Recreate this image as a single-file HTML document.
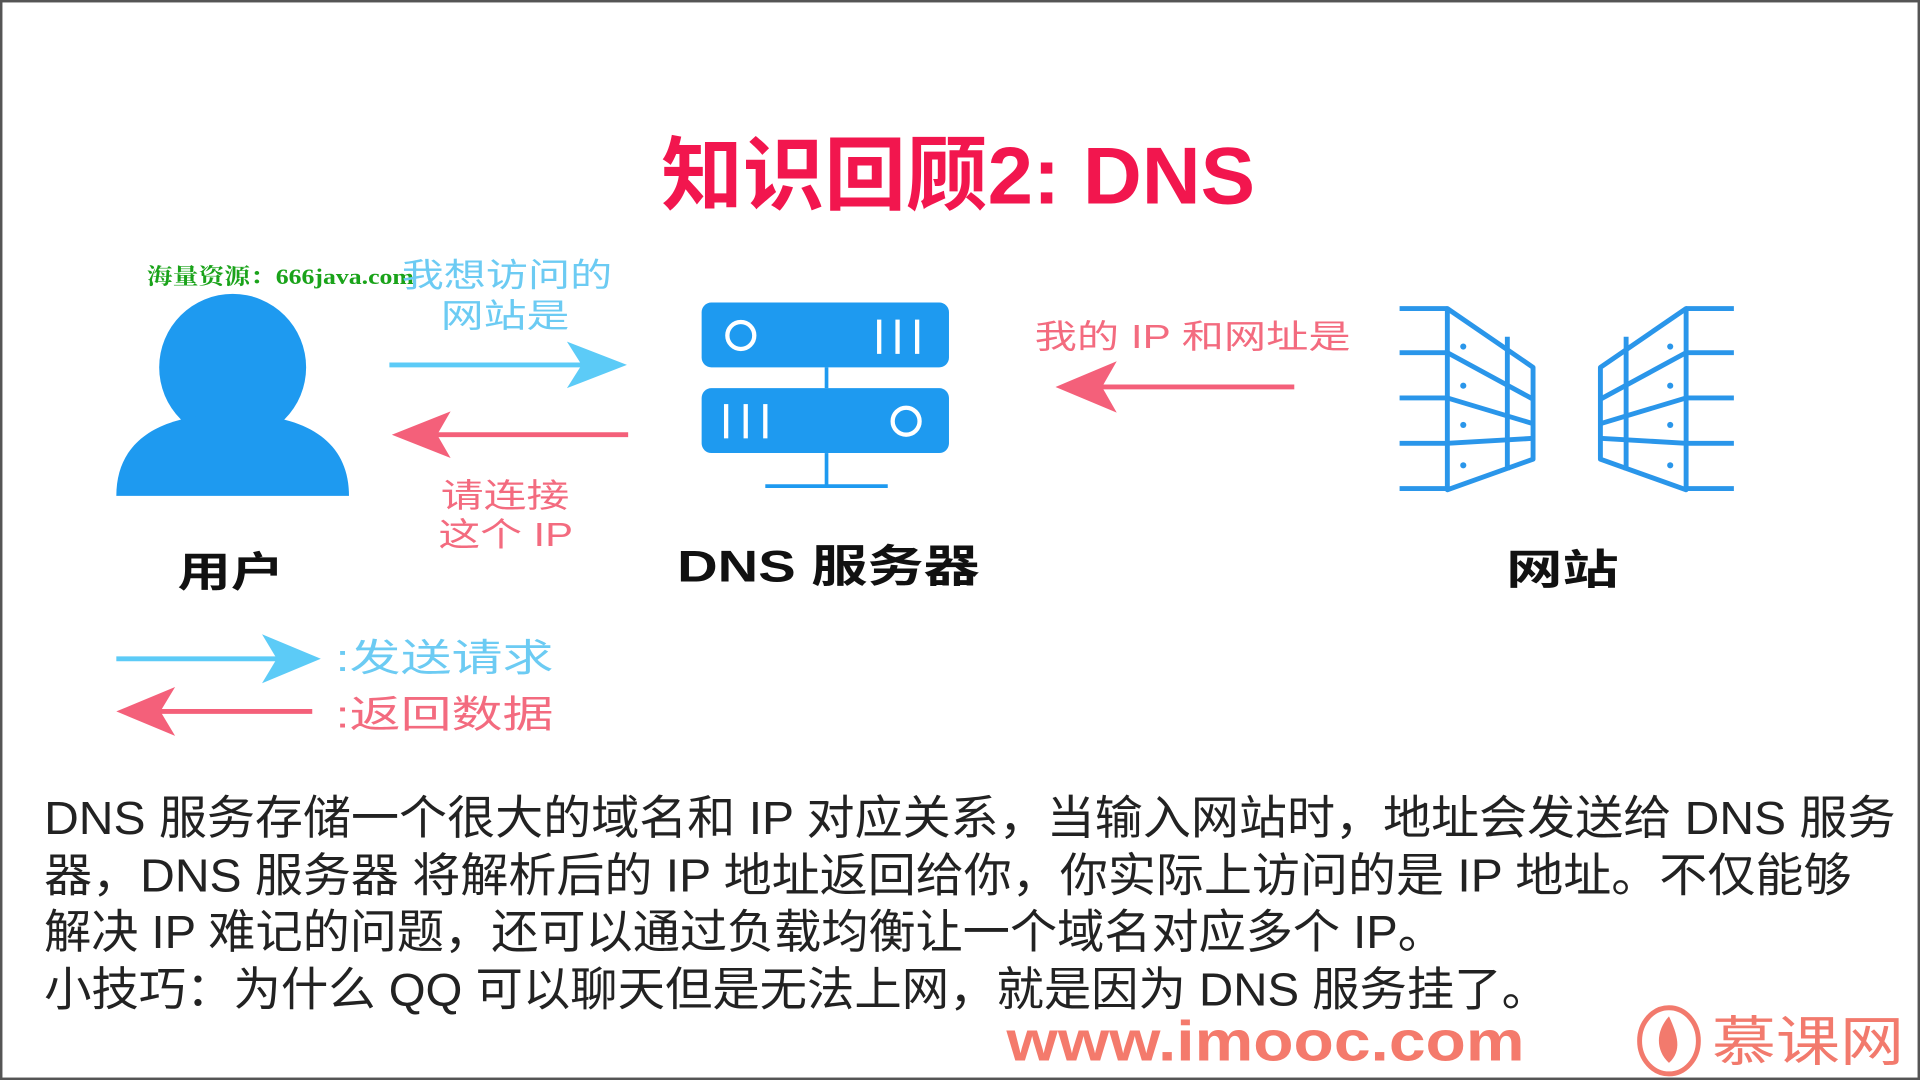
<!DOCTYPE html>
<html><head><meta charset="utf-8"><style>
html,body{margin:0;padding:0;background:#fff;}
svg{display:block;}
text{font-family:"Liberation Sans","Noto Sans CJK SC",sans-serif;}
</style></head><body>
<svg width="1920" height="1080" viewBox="0 0 1568 882" xmlns="http://www.w3.org/2000/svg">
<rect x="0" y="0" width="1568" height="882" fill="#fff"/>
<rect x="1" y="1" width="1566" height="880" fill="none" stroke="#555" stroke-width="2"/>

<text x="540" y="166" font-size="66" font-weight="bold" fill="#f2164e" textLength="485" lengthAdjust="spacingAndGlyphs">知识回顾2: DNS</text>

<text x="120" y="232" font-size="18" font-weight="bold" fill="#1aa31a" style="font-family:'Liberation Serif','Noto Serif CJK SC',serif" textLength="218" lengthAdjust="spacingAndGlyphs">海量资源：666java.com</text>

<text x="328" y="234" font-size="27" fill="#6ccbf3" textLength="172" lengthAdjust="spacingAndGlyphs">我想访问的</text>
<text x="360" y="267" font-size="27" fill="#6ccbf3" textLength="105" lengthAdjust="spacingAndGlyphs">网站是</text>

<!-- blue arrow -->
<line x1="318" y1="298" x2="495" y2="298" stroke="#5ccbf7" stroke-width="4"/>
<path d="M512 298 L463 279 L475 298 L463 317 Z" fill="#5ccbf7"/>
<!-- red arrow -->
<line x1="513" y1="355" x2="335" y2="355" stroke="#f4607a" stroke-width="4"/>
<path d="M320 355 L368 336 L357 355 L368 374 Z" fill="#f4607a"/>

<text x="360" y="414" font-size="27" fill="#f36b7f" textLength="105" lengthAdjust="spacingAndGlyphs">请连接</text>
<text x="358" y="446" font-size="27" fill="#f36b7f" textLength="110" lengthAdjust="spacingAndGlyphs">这个 IP</text>

<!-- user -->
<circle cx="190" cy="300" r="60" fill="#1e9af0"/>
<path d="M95 405 C95 360 130 338 190 338 C250 338 285 360 285 405 Z" fill="#1e9af0"/>
<text x="145" y="479" font-size="34" font-weight="bold" fill="#111" textLength="87" lengthAdjust="spacingAndGlyphs">用户</text>

<!-- server -->
<rect x="573" y="247" width="202" height="53" rx="8" fill="#1e9af0"/>
<rect x="573" y="317" width="202" height="53" rx="8" fill="#1e9af0"/>
<line x1="675" y1="300" x2="675" y2="317" stroke="#1e9af0" stroke-width="3"/>
<line x1="675" y1="370" x2="675" y2="397" stroke="#1e9af0" stroke-width="3"/>
<line x1="625" y1="397" x2="725" y2="397" stroke="#1e9af0" stroke-width="3"/>
<circle cx="605" cy="274" r="11" fill="none" stroke="#fff" stroke-width="3.5"/>
<g stroke="#fff" stroke-width="3.5"><line x1="718" y1="261" x2="718" y2="289"/><line x1="733" y1="261" x2="733" y2="289"/><line x1="749" y1="261" x2="749" y2="289"/>
<line x1="593" y1="330" x2="593" y2="358"/><line x1="609" y1="330" x2="609" y2="358"/><line x1="625" y1="330" x2="625" y2="358"/></g>
<circle cx="740" cy="344" r="11" fill="none" stroke="#fff" stroke-width="3.5"/>
<text x="553" y="475" font-size="36" font-weight="bold" fill="#111" textLength="247" lengthAdjust="spacingAndGlyphs">DNS 服务器</text>

<text x="845" y="284" font-size="27" fill="#f36b7f" textLength="258" lengthAdjust="spacingAndGlyphs">我的 IP 和网址是</text>
<line x1="1057" y1="316" x2="880" y2="316" stroke="#f4607a" stroke-width="4"/>
<path d="M862 316 L912 295 L900 316 L912 337 Z" fill="#f4607a"/>

<!-- buildings -->
<g id="bld" fill="none" stroke="#2a96ea" stroke-width="4" stroke-linejoin="round">
<line x1="1143" y1="252" x2="1182" y2="252"/>
<line x1="1143" y1="288" x2="1182" y2="288"/>
<line x1="1143" y1="325" x2="1182" y2="325"/>
<line x1="1143" y1="362" x2="1182" y2="362"/>
<line x1="1143" y1="399" x2="1182" y2="399"/>
<path d="M1182 252 L1182 400 L1252 375 L1252 300 Z"/>
<line x1="1231" y1="275" x2="1231" y2="384"/>
<path d="M1182 288 L1252 326"/>
<path d="M1182 325 L1252 346"/>
<path d="M1182 362 L1252 358"/>
<g fill="#2a96ea" stroke="none"><circle cx="1195" cy="283" r="2.5"/><circle cx="1195" cy="315" r="2.5"/><circle cx="1195" cy="347" r="2.5"/><circle cx="1195" cy="380" r="2.5"/></g>
</g>
<use href="#bld" transform="translate(2559,0) scale(-1,1)"/>
<text x="1230" y="477" font-size="34" font-weight="bold" fill="#111" textLength="92" lengthAdjust="spacingAndGlyphs">网站</text>

<!-- legend -->
<line x1="95" y1="538" x2="245" y2="538" stroke="#5ccbf7" stroke-width="4"/>
<path d="M262 538 L214 518 L226 538 L214 558 Z" fill="#5ccbf7"/>
<text x="274" y="548" font-size="31" fill="#6ccbf3" textLength="178" lengthAdjust="spacingAndGlyphs">:发送请求</text>
<line x1="255" y1="581" x2="110" y2="581" stroke="#f4607a" stroke-width="4"/>
<path d="M95 581 L143 561 L131 581 L143 601 Z" fill="#f4607a"/>
<text x="274" y="594" font-size="31" fill="#f36b7f" textLength="178" lengthAdjust="spacingAndGlyphs">:返回数据</text>

<!-- paragraph -->
<g font-size="38" fill="#222">
<text x="36" y="681" textLength="1512" lengthAdjust="spacingAndGlyphs">DNS 服务存储一个很大的域名和 IP 对应关系，当输入网站时，地址会发送给 DNS 服务</text>
<text x="36" y="728" textLength="1476" lengthAdjust="spacingAndGlyphs">器，DNS 服务器 将解析后的 IP 地址返回给你，你实际上访问的是 IP 地址。不仅能够</text>
<text x="36" y="774" textLength="1144" lengthAdjust="spacingAndGlyphs">解决 IP 难记的问题，还可以通过负载均衡让一个域名对应多个 IP。</text>
<text x="36" y="821" textLength="1229" lengthAdjust="spacingAndGlyphs">小技巧：为什么 QQ 可以聊天但是无法上网，就是因为 DNS 服务挂了。</text>
</g>

<text x="822" y="866" font-size="46" font-weight="bold" fill="#f47a6c" textLength="423" lengthAdjust="spacingAndGlyphs">www.imooc.com</text>
<ellipse cx="1363" cy="850" rx="24" ry="27" fill="none" stroke="#f27a6d" stroke-width="4"/>
<path d="M1363 830 C1352 842 1352 858 1363 868 C1374 858 1370 845 1363 830 Z" fill="#f27a6d"/>
<text x="1398" y="866" font-size="44" fill="#f27a6d" textLength="157" lengthAdjust="spacingAndGlyphs">慕课网</text>
</svg>
</body></html>
